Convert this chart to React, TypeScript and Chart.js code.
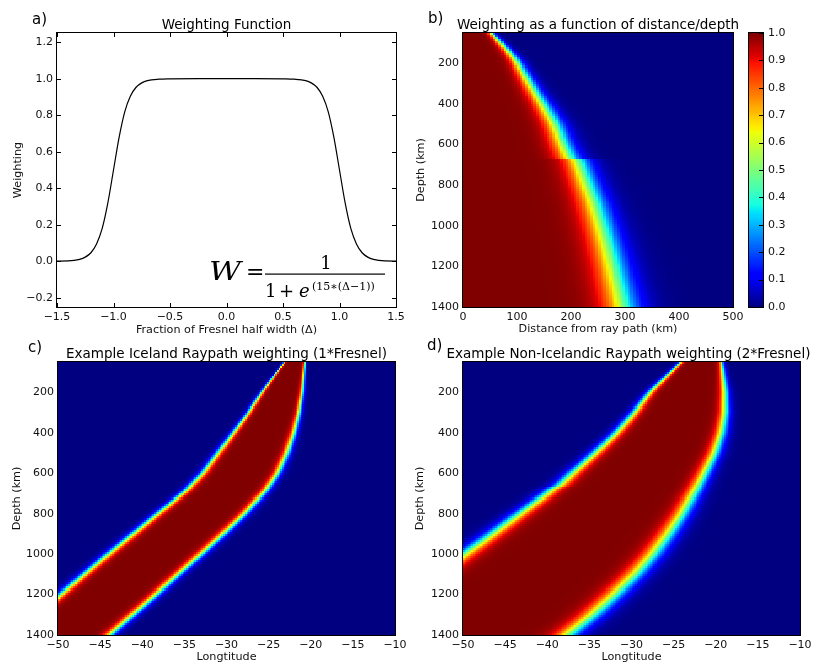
import React, { useEffect, useRef } from 'react';
import { Chart, registerables } from 'chart.js';
Chart.register(...registerables);

const FONT = '"DejaVu Sans", sans-serif';
const SERIF = '"DejaVu Serif", serif';

// ---------- Panel a: weighting function ----------
const deltaA = [-1.5, -1.4, -1.3, -1.25, -1.2, -1.15, -1.1, -1.05, -1.0, -0.95, -0.9, -0.85, -0.8, -0.75, -0.7, -0.6, -0.5, -0.25, 0, 0.25, 0.5, 0.6, 0.7, 0.75, 0.8, 0.85, 0.9, 0.95, 1.0, 1.05, 1.1, 1.15, 1.2, 1.25, 1.3, 1.4, 1.5];
const weightA = [0.001, 0.002, 0.011, 0.023, 0.047, 0.095, 0.18, 0.32, 0.5, 0.68, 0.82, 0.905, 0.953, 0.977, 0.989, 0.997, 0.999, 1.0, 1.0, 1.0, 0.999, 0.997, 0.989, 0.977, 0.953, 0.905, 0.82, 0.68, 0.5, 0.32, 0.18, 0.095, 0.047, 0.023, 0.011, 0.002, 0.001];
const xTicksA = [-1.5, -1.0, -0.5, 0.0, 0.5, 1.0, 1.5];
const yTicksA = [-0.2, 0.0, 0.2, 0.4, 0.6, 0.8, 1.0, 1.2];

// ---------- Panel b: Fresnel half width vs depth ----------
const depthB = [50, 100, 175, 210, 340, 410, 500, 600, 665, 675, 700, 800, 900, 1000, 1100, 1200, 1300, 1400];
const fresnelB = [52, 70, 95, 104, 133, 150, 170, 186, 198, 212, 216, 230, 245, 257, 268, 278, 288, 297];
const xTicksB = [0, 100, 200, 300, 400, 500];

// ---------- Panel c: Iceland raypath band edges (longitude) ----------
const depthC = [50, 200, 300, 400, 500, 600, 680, 800, 900, 1000, 1200, 1400];
const leftC = [-23.1, -25.8, -27.4, -29.2, -31.0, -32.8, -34.6, -38.2, -41.1, -44.0, -49.7, -55.3];
const rightC = [-20.7, -21.0, -21.4, -22.0, -22.8, -23.9, -25.2, -27.9, -30.4, -33.0, -38.4, -43.9];

// ---------- Panel d: Non-Icelandic raypath band edges (longitude) ----------
const depthD = [50, 200, 300, 400, 500, 600, 665, 680, 700, 800, 900, 1000, 1100, 1200, 1300, 1400];
const leftD = [-24.1, -27.8, -29.7, -31.8, -34.3, -37.0, -38.6, -39.4, -40.0, -43.3, -46.5, -49.8, -53.1, -56.5, -60.0, -63.5];
const rightD = [-19.3, -18.9, -18.9, -19.3, -20.1, -21.3, -22.1, -22.3, -22.6, -24.0, -25.6, -27.4, -29.5, -32.0, -34.6, -37.6];

const depthTicks = [200, 400, 600, 800, 1000, 1200, 1400];
const lonTicks = [-50, -45, -40, -35, -30, -25, -20, -15, -10];
const cbarTicks = [0, 0.1, 0.2, 0.3, 0.4, 0.5, 0.6, 0.7, 0.8, 0.9, 1.0];

const STEEP = 15; // from W = 1/(1+e^(15*(Δ-1)))

// ---------- helpers ----------
const weight = (d: number) => 1 / (1 + Math.exp(STEEP * (d - 1)));

const interp = (xs: number[], ys: number[], x: number) => {
  if (x <= xs[0]) return ys[0];
  for (let k = 1; k < xs.length; k++) {
    if (x <= xs[k]) return ys[k - 1] + (ys[k] - ys[k - 1]) * (x - xs[k - 1]) / (xs[k] - xs[k - 1]);
  }
  return ys[ys.length - 1];
};

const seg = (pts: number[][], c: number) => {
  for (let k = 1; k < pts.length; k++) {
    if (c <= pts[k][0]) {
      const [x0, y0] = pts[k - 1];
      const [x1, y1] = pts[k];
      return y0 + (y1 - y0) * (c - x0) / (x1 - x0);
    }
  }
  return pts[pts.length - 1][1];
};
const jet = (v: number) => {
  const c = Math.max(0, Math.min(1, v));
  const r = seg([[0, 0], [0.35, 0], [0.66, 1], [0.89, 1], [1, 0.5]], c);
  const g = seg([[0, 0], [0.125, 0], [0.375, 1], [0.64, 1], [0.91, 0], [1, 0]], c);
  const b = seg([[0, 0.5], [0.11, 1], [0.34, 1], [0.65, 0], [1, 0]], c);
  return `rgb(${Math.round(r * 255)},${Math.round(g * 255)},${Math.round(b * 255)})`;
};

type Grid = { xe: number[]; ye: number[]; v: number[][] };
const buildGrid = (x0: number, x1: number, nx: number, y0: number, y1: number, ny: number, f: (x: number, y: number) => number): Grid => {
  const xe: number[] = [], ye: number[] = [], v: number[][] = [];
  for (let i = 0; i <= nx; i++) xe.push(x0 + (x1 - x0) * i / nx);
  for (let j = 0; j <= ny; j++) ye.push(y0 + (y1 - y0) * j / ny);
  for (let j = 0; j < ny; j++) {
    const row: number[] = [];
    const yc = (ye[j] + ye[j + 1]) / 2;
    for (let i = 0; i < nx; i++) row.push(f((xe[i] + xe[i + 1]) / 2, yc));
    v.push(row);
  }
  return { xe, ye, v };
};

const gridB = buildGrid(0, 500, 100, 50, 1400, 135, (x, z) => weight(x / interp(depthB, fresnelB, z)));
const bandFn = (ds: number[], ls: number[], rs: number[]) => (lon: number, z: number) => {
  const l = interp(ds, ls, z), r = interp(ds, rs, z);
  const c = (l + r) / 2, h = (r - l) / 2;
  return weight(Math.abs(lon - c) / h);
};
const gridC = buildGrid(-50, -10, 200, 50, 1400, 135, bandFn(depthC, leftC, rightC));
const gridD = buildGrid(-50, -10, 200, 50, 1400, 135, bandFn(depthD, leftD, rightD));

const heatmapPlugin = (grid: Grid) => ({
  id: 'heatmap',
  beforeDatasetsDraw(chart: any) {
    const { ctx, chartArea: ca, scales } = chart;
    const px = grid.xe.map((v) => Math.round(scales.x.getPixelForValue(v)));
    const py = grid.ye.map((v) => Math.round(scales.y.getPixelForValue(v)));
    ctx.save();
    ctx.beginPath();
    ctx.rect(ca.left, ca.top, ca.right - ca.left, ca.bottom - ca.top);
    ctx.clip();
    for (let j = 0; j < grid.v.length; j++) {
      const ya = Math.min(py[j], py[j + 1]);
      const hh = Math.abs(py[j + 1] - py[j]);
      for (let i = 0; i < grid.v[j].length; i++) {
        ctx.fillStyle = jet(grid.v[j][i]);
        ctx.fillRect(px[i], ya, px[i + 1] - px[i], hh);
      }
    }
    ctx.restore();
  },
});

const colorbarPlugin = {
  id: 'colorbar',
  beforeDatasetsDraw(chart: any) {
    const { ctx, chartArea: ca, scales } = chart;
    const n = 256;
    for (let i = 0; i < n; i++) {
      const ya = scales.y.getPixelForValue((i + 1) / n);
      const yb = scales.y.getPixelForValue(i / n);
      ctx.fillStyle = jet((i + 0.5) / n);
      ctx.fillRect(ca.left, Math.floor(ya), ca.right - ca.left, Math.ceil(yb) - Math.floor(ya));
    }
    ctx.strokeStyle = '#000';
    ctx.lineWidth = 1;
    cbarTicks.forEach((v) => {
      const y = Math.round(scales.y.getPixelForValue(v)) + 0.5;
      ctx.beginPath();
      ctx.moveTo(ca.right, y);
      ctx.lineTo(ca.right - 4, y);
      ctx.stroke();
    });
  },
};

const framePlugin = (inTicks: boolean, xt: number[], yt: number[]) => ({
  id: 'frame',
  afterDraw(chart: any) {
    const { ctx, chartArea: ca, scales } = chart;
    ctx.save();
    ctx.strokeStyle = '#000';
    ctx.lineWidth = 1;
    ctx.strokeRect(ca.left - 0.5, ca.top - 0.5, ca.right - ca.left + 1, ca.bottom - ca.top + 1);
    if (inTicks) {
      const L = 4;
      ctx.beginPath();
      xt.forEach((v) => {
        const x = Math.round(scales.x.getPixelForValue(v)) + 0.5;
        ctx.moveTo(x, ca.bottom); ctx.lineTo(x, ca.bottom - L);
        ctx.moveTo(x, ca.top); ctx.lineTo(x, ca.top + L);
      });
      yt.forEach((v) => {
        const y = Math.round(scales.y.getPixelForValue(v)) + 0.5;
        ctx.moveTo(ca.left, y); ctx.lineTo(ca.left + L, y);
        ctx.moveTo(ca.right, y); ctx.lineTo(ca.right - L, y);
      });
      ctx.stroke();
    }
    ctx.restore();
  },
});

type TextItem = { t: string; x: number; y: number; size: number; align?: CanvasTextAlign; font?: string; style?: string };
const textPlugin = (items: TextItem[], extra?: (ctx: CanvasRenderingContext2D) => void) => ({
  id: 'texts',
  afterDraw(chart: any) {
    const ctx: CanvasRenderingContext2D = chart.ctx;
    ctx.save();
    ctx.fillStyle = '#000';
    ctx.textBaseline = 'alphabetic';
    items.forEach((it) => {
      ctx.font = `${it.style || ''} ${it.size}px ${it.font || FONT}`;
      ctx.textAlign = it.align || 'left';
      ctx.fillText(it.t, it.x, it.y);
    });
    if (extra) extra(ctx);
    ctx.restore();
  },
});

const formula = (ctx: CanvasRenderingContext2D) => {
  ctx.textAlign = 'left';
  ctx.font = `italic 26px ${SERIF}`;
  ctx.save();
  ctx.translate(209, 280);
  ctx.scale(1.2, 1);
  ctx.fillText('W', 0, 0);
  ctx.restore();
  ctx.font = `22px ${SERIF}`;
  ctx.fillText('=', 246, 279);
  ctx.fillRect(265, 273.5, 120, 1.2);
  ctx.font = `18px ${SERIF}`;
  ctx.textAlign = 'center';
  ctx.fillText('1', 326, 269);
  ctx.textAlign = 'left';
  ctx.fillText('1', 265, 297);
  ctx.fillText('+', 279, 297);
  ctx.font = `italic 18px ${SERIF}`;
  ctx.fillText('e', 299, 297);
  ctx.font = `11px ${SERIF}`;
  ctx.fillText('(15\u2217(\u0394\u22121))', 312, 290);
};

// ---------- layout geometry ----------
const W = 819, H = 666;
const LBL = 11.2, HALF = LBL * 0.6;
type Geo = { l: number; r: number; t: number; b: number; ytx: number; xty: number };
const GA: Geo = { l: 57, r: 396, t: 33, b: 307, ytx: 18, xty: 330 };
const GB: Geo = { l: 463, r: 733, t: 33, b: 307, ytx: 421, xty: 329 };
const GC: Geo = { l: 58, r: 395, t: 362, b: 635, ytx: 17, xty: 657 };
const GD: Geo = { l: 463, r: 800, t: 362, b: 635, ytx: 420, xty: 657 };
const GCB = { l: 749, r: 763, t: 33, b: 307 };

const minus = (s: string) => s.replace('-', '\u2212');
const fmt1 = (v: any) => minus(Number(v).toFixed(1));
const fmt0 = (v: any) => minus(String(Math.round(Number(v))));

const xAxis = (g: Geo, min: number, max: number, ticks: number[], title: string, fmt: (v: any) => string) => ({
  type: 'linear', position: 'bottom', min, max,
  grid: { display: false, drawTicks: false }, border: { display: false },
  ticks: { color: '#111', font: { family: FONT, size: 11 }, padding: 4, autoSkip: false, maxRotation: 0, includeBounds: false, callback: fmt },
  afterBuildTicks: (s: any) => { s.ticks = ticks.map((v) => ({ value: v })); },
  title: { display: true, text: title, color: '#111', font: { family: FONT, size: LBL }, padding: 0 },
  afterFit: (s: any) => { s.height = g.xty + HALF - g.b; },
});
const yAxis = (g: Geo, min: number, max: number, ticks: number[], title: string, fmt: (v: any) => string, reverse: boolean) => ({
  type: 'linear', position: 'left', min, max, reverse,
  grid: { display: false, drawTicks: false }, border: { display: false },
  ticks: { color: '#111', font: { family: FONT, size: 11 }, padding: 4, autoSkip: false, includeBounds: false, callback: fmt },
  afterBuildTicks: (s: any) => { s.ticks = ticks.map((v) => ({ value: v })); },
  title: { display: true, text: title, color: '#111', font: { family: FONT, size: LBL }, padding: 0 },
  afterFit: (s: any) => { s.width = g.l - (g.ytx - HALF); },
});
const padding = (g: Geo) => ({ left: g.ytx - HALF, top: g.t, right: W - g.r, bottom: H - (g.xty + HALF) });

const baseOpts = (g: Geo, scales: any) => ({
  responsive: false, animation: false, devicePixelRatio: 1,
  layout: { padding: padding(g) },
  plugins: { legend: { display: false }, tooltip: { enabled: false }, title: { display: false } },
  events: [],
  scales,
});

export default function App() {
  const ra = useRef<HTMLCanvasElement>(null);
  const rb = useRef<HTMLCanvasElement>(null);
  const rcb = useRef<HTMLCanvasElement>(null);
  const rc = useRef<HTMLCanvasElement>(null);
  const rd = useRef<HTMLCanvasElement>(null);

  useEffect(() => {
    const charts: Chart[] = [];
    charts.push(new Chart(ra.current!, {
      type: 'scatter',
      data: { datasets: [{ data: deltaA.map((d, i) => ({ x: d, y: weightA[i] })), showLine: true, borderColor: '#000', borderWidth: 1.2, pointRadius: 0, cubicInterpolationMode: 'monotone', fill: false } as any] },
      options: baseOpts(GA, {
        x: xAxis(GA, -1.5, 1.5, xTicksA, 'Fraction of Fresnel half width (\u0394)', fmt1),
        y: yAxis(GA, -0.25, 1.25, yTicksA, 'Weighting', fmt1, false),
      }) as any,
      plugins: [framePlugin(true, xTicksA, yTicksA), textPlugin([
        { t: 'a)', x: 32, y: 24, size: 15 },
        { t: 'Weighting Function', x: (GA.l + GA.r) / 2, y: 28.5, size: 13.5, align: 'center' },
      ], formula)],
    }));
    charts.push(new Chart(rb.current!, {
      type: 'scatter',
      data: { datasets: [{ data: [] }] },
      options: baseOpts(GB, {
        x: xAxis(GB, 0, 500, xTicksB, 'Distance from ray path (km)', fmt0),
        y: yAxis(GB, 50, 1400, depthTicks, 'Depth (km)', fmt0, true),
      }) as any,
      plugins: [heatmapPlugin(gridB), framePlugin(false, [], []), textPlugin([
        { t: 'b)', x: 428, y: 23, size: 15 },
        { t: 'Weighting as a function of distance/depth', x: (GB.l + GB.r) / 2, y: 28.5, size: 13.5, align: 'center' },
      ])],
    }));
    charts.push(new Chart(rcb.current!, {
      type: 'scatter',
      data: { datasets: [{ data: [] }] },
      options: {
        responsive: false, animation: false, devicePixelRatio: 1, events: [],
        layout: { padding: { left: GCB.l, top: GCB.t, right: W - GCB.r - 40, bottom: H - GCB.b } },
        plugins: { legend: { display: false }, tooltip: { enabled: false } },
        scales: {
          x: { type: 'linear', display: false, min: 0, max: 1 },
          y: {
            type: 'linear', position: 'right', min: 0, max: 1,
            grid: { display: false, drawTicks: false }, border: { display: false },
            ticks: { color: '#111', font: { family: FONT, size: 11 }, padding: 5, autoSkip: false, includeBounds: false, callback: fmt1 },
            afterBuildTicks: (s: any) => { s.ticks = cbarTicks.map((v) => ({ value: v })); },
            afterFit: (s: any) => { s.width = 40; },
          },
        },
      } as any,
      plugins: [colorbarPlugin, framePlugin(false, [], [])],
    }));
    charts.push(new Chart(rc.current!, {
      type: 'scatter',
      data: { datasets: [{ data: [] }] },
      options: baseOpts(GC, {
        x: xAxis(GC, -50, -10, lonTicks, 'Longtitude', fmt0),
        y: yAxis(GC, 50, 1400, depthTicks, 'Depth (km)', fmt0, true),
      }) as any,
      plugins: [heatmapPlugin(gridC), framePlugin(false, [], []), textPlugin([
        { t: 'c)', x: 28, y: 352, size: 15 },
        { t: 'Example Iceland Raypath weighting (1*Fresnel)', x: (GC.l + GC.r) / 2, y: 358, size: 13.5, align: 'center' },
      ])],
    }));
    charts.push(new Chart(rd.current!, {
      type: 'scatter',
      data: { datasets: [{ data: [] }] },
      options: baseOpts(GD, {
        x: xAxis(GD, -50, -10, lonTicks, 'Longtitude', fmt0),
        y: yAxis(GD, 50, 1400, depthTicks, 'Depth (km)', fmt0, true),
      }) as any,
      plugins: [heatmapPlugin(gridD), framePlugin(false, [], []), textPlugin([
        { t: 'd)', x: 427, y: 350, size: 15 },
        { t: 'Example Non-Icelandic Raypath weighting (2*Fresnel)', x: 628.5, y: 358, size: 13.5, align: 'center' },
      ])],
    }));
    return () => charts.forEach((c) => c.destroy());
  }, []);

  const cs: React.CSSProperties = { position: 'absolute', left: 0, top: 0, width: W, height: H };
  return (
    <div style={{ position: 'absolute', left: 0, top: 0, width: W, height: H, background: '#fff', overflow: 'hidden' }}>
      <canvas ref={ra} width={W} height={H} style={cs} />
      <canvas ref={rb} width={W} height={H} style={cs} />
      <canvas ref={rcb} width={W} height={H} style={cs} />
      <canvas ref={rc} width={W} height={H} style={cs} />
      <canvas ref={rd} width={W} height={H} style={cs} />
    </div>
  );
}
